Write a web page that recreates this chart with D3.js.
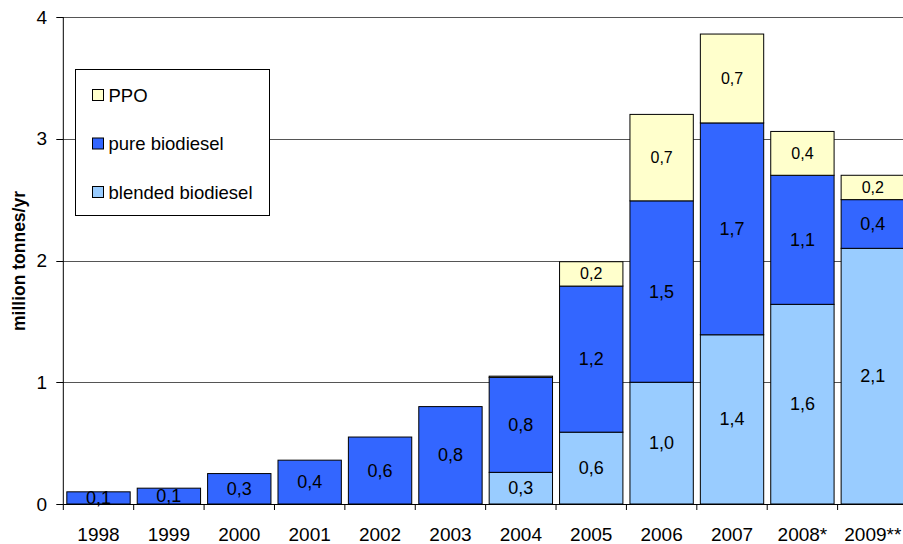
<!DOCTYPE html>
<html>
<head>
<meta charset="utf-8">
<script src="https://cdn.jsdelivr.net/npm/d3@7/dist/d3.min.js"></script>
<style>
  html, body { margin: 0; padding: 0; background: #fff; }
  svg { display: block; font-family: "Liberation Sans", Arial, sans-serif; }
</style>
</head>
<body>
<svg id="chart" width="903" height="544"></svg>
<script>
// Biofuel sales by type, million tonnes per year
const years = ["1998", "1999", "2000", "2001", "2002", "2003", "2004", "2005", "2006", "2007", "2008*", "2009**"];
const blended = [0, 0, 0, 0, 0, 0, 0.26, 0.59, 1.0, 1.39, 1.64, 2.1];
const pure    = [0.1, 0.13, 0.25, 0.36, 0.55, 0.8, 0.78, 1.2, 1.49, 1.74, 1.06, 0.4];
const ppo     = [0, 0, 0, 0, 0, 0, 0.01, 0.2, 0.71, 0.73, 0.36, 0.2];
const yTicks = [0, 1, 2, 3, 4];
const seriesNames = ["blended biodiesel", "pure biodiesel", "PPO"];
const seriesColors = ["#99CCFF", "#3366FF", "#FFFFCC"];

const svg = d3.select("#chart");
const W = 903, H = 544;
const plot = { left: 63.3, right: 908, top: 17, bottom: 504 };

const x = d3.scaleBand().domain(years)
  .range([plot.left, plot.right])
  .paddingInner(0.1).paddingOuter(0.05);
const step = x.step();
const y = d3.scaleLinear().domain([0, 4]).range([plot.bottom, plot.top]);

// Gridlines
svg.append("g").selectAll("line")
  .data(yTicks.filter(t => t > 0))
  .join("line")
  .attr("x1", plot.left).attr("x2", W)
  .attr("y1", d => Math.round(y(d)) + 0.5).attr("y2", d => Math.round(y(d)) + 0.5)
  .attr("stroke", "#555").attr("stroke-width", 1);

// Stack the three series
const rows = years.map((yr, i) => ({ year: yr, "blended biodiesel": blended[i], "pure biodiesel": pure[i], "PPO": ppo[i] }));
const stack = d3.stack().keys(seriesNames)(rows);

const fmt = v => d3.format(".1f")(v).replace(".", ",");

const layers = svg.append("g").selectAll("g")
  .data(stack)
  .join("g")
  .attr("fill", (d, i) => seriesColors[i]);

layers.selectAll("rect")
  .data(d => d.filter(s => s[1] - s[0] > 0))
  .join("rect")
  .attr("x", s => x(s.data.year))
  .attr("width", x.bandwidth())
  .attr("y", s => y(s[1]))
  .attr("height", s => y(s[0]) - y(s[1]))
  .attr("stroke", "#000").attr("stroke-width", 1);

// Value labels inside segments
stack.forEach((layer, li) => {
  svg.append("g").selectAll("text")
    .data(layer.filter(s => s[1] - s[0] >= 0.05))
    .join("text")
    .attr("x", s => x(s.data.year) + x.bandwidth() / 2)
    .attr("y", s => (y(s[0]) + y(s[1])) / 2)
    .attr("text-anchor", "middle")
    .attr("dominant-baseline", "central")
    .attr("font-size", li === 2 ? 16 : 18)
    .attr("fill", "#000")
    .text(s => fmt(s[1] - s[0]));
});

// Y axis
const yAxis = svg.append("g");
yAxis.append("line")
  .attr("x1", plot.left).attr("x2", plot.left)
  .attr("y1", plot.top).attr("y2", plot.bottom)
  .attr("stroke", "#000");
yAxis.selectAll("line.tick")
  .data(yTicks).join("line").attr("class", "tick")
  .attr("x1", plot.left - 7).attr("x2", plot.left)
  .attr("y1", d => Math.round(y(d)) + 0.5).attr("y2", d => Math.round(y(d)) + 0.5)
  .attr("stroke", "#000");
yAxis.selectAll("text")
  .data(yTicks).join("text")
  .attr("x", 47).attr("y", d => y(d))
  .attr("text-anchor", "end").attr("dominant-baseline", "central")
  .attr("font-size", 19).text(d => d);

// X axis
const xAxis = svg.append("g");
xAxis.append("line")
  .attr("x1", plot.left).attr("x2", W)
  .attr("y1", plot.bottom + 0.5).attr("y2", plot.bottom + 0.5)
  .attr("stroke", "#000");
xAxis.selectAll("line.tick")
  .data(d3.range(years.length + 1)).join("line").attr("class", "tick")
  .attr("x1", i => x.range()[0] + i * step).attr("x2", i => x.range()[0] + i * step)
  .attr("y1", plot.bottom).attr("y2", plot.bottom + 6)
  .attr("stroke", "#000");
xAxis.selectAll("text")
  .data(years).join("text")
  .attr("x", d => x(d) + x.bandwidth() / 2)
  .attr("y", 541)
  .attr("text-anchor", "middle")
  .attr("font-size", 19).text(d => d);

// Axis title
svg.append("text")
  .attr("transform", "translate(25,261) rotate(-90)")
  .attr("text-anchor", "middle")
  .attr("font-size", 17.5).attr("font-weight", "bold")
  .text("million tonnes/yr");

// Legend
const legend = svg.append("g");
legend.append("rect")
  .attr("x", 75.5).attr("y", 69.5).attr("width", 194).attr("height", 146)
  .attr("fill", "#fff").attr("stroke", "#000");
const legendItems = [
  { name: "PPO", color: seriesColors[2] },
  { name: "pure biodiesel", color: seriesColors[1] },
  { name: "blended biodiesel", color: seriesColors[0] }
];
const li = legend.selectAll("g").data(legendItems).join("g")
  .attr("transform", (d, i) => `translate(92.5,${95 + i * 48.5})`);
li.append("rect")
  .attr("x", 0).attr("y", -5.5).attr("width", 11).attr("height", 11)
  .attr("fill", d => d.color).attr("stroke", "#000");
li.append("text")
  .attr("x", 16).attr("y", 0)
  .attr("dominant-baseline", "central")
  .attr("font-size", 18.5).text(d => d.name);
</script>
</body>
</html>
